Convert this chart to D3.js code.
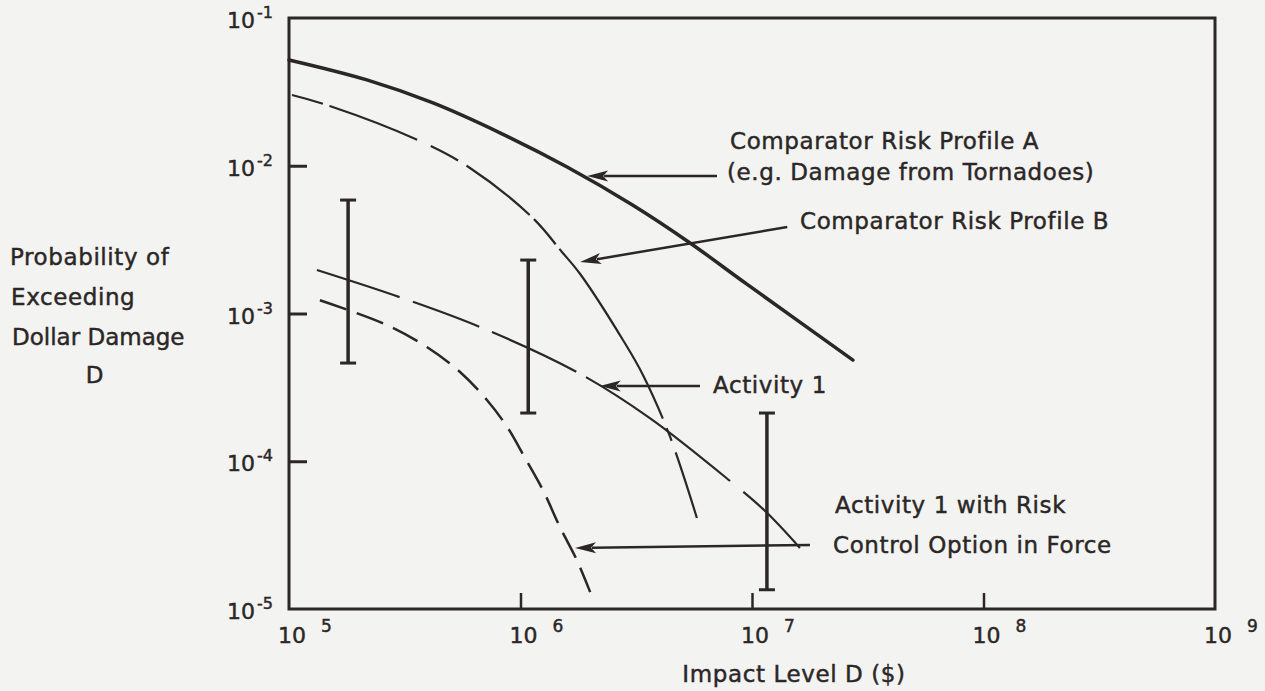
<!DOCTYPE html>
<html><head><meta charset="utf-8">
<script src="https://cdn.jsdelivr.net/npm/d3@7"></script>
<style>html,body{margin:0;padding:0;background:#f3f3f1;} svg{display:block;}</style>
</head><body><svg id="chart" width="1265" height="691"></svg>
<script>
// ---- tick labels ----
const xTicks = [1e5, 1e6, 1e7, 1e8, 1e9];
const xTickExp = ["5", "6", "7", "8", "9"];
const yTicks = [1e-1, 1e-2, 1e-3, 1e-4, 1e-5];
const yTickExp = ["-1", "-2", "-3", "-4", "-5"];

// ---- Comparator Risk Profile A (solid) ----
const profileA_D = [1e5, 2.17e5, 4.19e5, 8.15e5, 1.59e6, 3.06e6, 5.4e6, 9.5e6, 2.73e7];
const profileA_P = [0.052, 0.0381, 0.0266, 0.0167, 0.0098, 0.0054, 0.0030, 0.00158, 0.000484];

// ---- Comparator Risk Profile B (dash-dot) ----
const profileB_D = [1.03e5, 1.50e5, 3.61e5, 6.05e5, 1.13e6, 1.51e6, 1.81e6, 2.77e6, 3.38e6, 4.43e6, 5.78e6];
const profileB_P = [0.0301, 0.0254, 0.0149, 0.00966, 0.00443, 0.00261, 0.00185, 0.000662, 0.000384, 0.000146, 0.0000413];

// ---- Activity 1 (long dash) ----
const activity_D = [1.32e5, 3.01e5, 6.68e5, 1.75e6, 3.62e6, 8.04e6, 1.14e7, 1.61e7];
const activity_P = [0.00197, 0.00129, 0.000811, 0.000402, 0.000196, 0.0000735, 0.0000460, 0.0000259];

// ---- Activity 1 with Risk Control Option in Force (dashed) ----
const control_D = [1.36e5, 2.65e5, 3.94e5, 5.48e5, 7.16e5, 8.75e5, 1.04e6, 1.25e6, 1.48e6, 1.75e6, 2.0e6];
const control_P = [0.00123, 0.000836, 0.000593, 0.000402, 0.000260, 0.000171, 0.000107, 0.0000638, 0.0000359, 0.0000215, 0.0000130];

// ---- uncertainty bars ----
const bar_D = [1.8e5, 1.08e6, 1.16e7];
const bar_low = [0.000462, 0.000212, 0.0000135];
const bar_high = [0.00586, 0.0023, 0.000212];

// ---- annotations ----
const noteLines = [
  ["Comparator Risk Profile A", "(e.g. Damage from Tornadoes)"],
  ["Comparator Risk Profile B"],
  ["Activity 1"],
  ["Activity 1 with Risk", "Control Option in Force"]
];
const noteTip_D = [1.94e6, 1.81e6, 2.20e6, 1.72e6];
const noteTip_P = [0.00853, 0.00223, 0.000323, 0.0000259];
const noteTail_D = [7.06e6, 1.42e7, 5.96e6, 1.78e7];
const noteTail_P = [0.00853, 0.00385, 0.000323, 0.0000271];

const yTitle = ["Probability of", "Exceeding", "Dollar Damage", "D"];
const xTitle = "Impact Level D ($)";

// ---- drawing ----
const ink = "#2b2727";
const font = "'DejaVu Sans', sans-serif";
const svg = d3.select("#chart");
svg.append("rect").attr("width", 1265).attr("height", 691).attr("fill", "#f3f3f1");

const x = d3.scaleLog().domain([1e5, 1e9]).range([289, 1215]);
const y = d3.scaleLog().domain([1e-5, 1e-1]).range([609, 18]);

const g = svg.append("g");
const txt = sel => sel.attr("font-family", font).attr("fill", ink)
  .attr("stroke", ink).attr("stroke-width", 0.45);

// frame
g.append("rect")
  .attr("x", x(1e5)).attr("y", y(1e-1))
  .attr("width", x(1e9) - x(1e5)).attr("height", y(1e-5) - y(1e-1))
  .attr("fill", "none").attr("stroke", ink).attr("stroke-width", 3);

// y ticks (inward)
const yAxis = d3.axisRight(y).tickValues(yTicks.slice(1, -1)).tickSize(18).tickFormat("");
g.append("g").attr("transform", `translate(${x(1e5)},0)`).call(yAxis)
  .call(s => s.select(".domain").remove())
  .call(s => s.selectAll("line").attr("stroke", ink).attr("stroke-width", 3));
// x ticks (inward)
const xAxis = d3.axisTop(x).tickValues(xTicks.slice(1, -1)).tickSize(16).tickFormat("");
g.append("g").attr("transform", `translate(0,${y(1e-5)})`).call(xAxis)
  .call(s => s.select(".domain").remove())
  .call(s => s.selectAll("line").attr("stroke", ink).attr("stroke-width", 2.5));

// y tick labels
yTicks.forEach((v, i) => {
  const t = g.append("text").attr("x", 273).attr("y", y(v) + 10)
    .attr("text-anchor", "end").attr("font-size", 22).call(txt);
  t.append("tspan").text("10");
  t.append("tspan").attr("dx", 2).attr("dy", -10).attr("font-size", 16).text(yTickExp[i]);
});
// x tick labels
xTicks.forEach((v, i) => {
  const t = g.append("text").attr("x", x(v) - 11).attr("y", 643)
    .attr("font-size", 22).call(txt);
  t.append("tspan").text("10");
  t.append("tspan").attr("dx", 15).attr("dy", -11).attr("font-size", 17).text(xTickExp[i]);
});

// titles
const yt = g.append("g").attr("font-size", 23).attr("letter-spacing", 0.6).call(txt);
yt.append("text").attr("x", 10).attr("y", 265).text(yTitle[0]);
yt.append("text").attr("x", 11).attr("y", 305).text(yTitle[1]);
yt.append("text").attr("x", 12).attr("y", 345).attr("letter-spacing", 0).text(yTitle[2]);
yt.append("text").attr("x", 95).attr("y", 383).attr("text-anchor", "middle").text(yTitle[3]);
g.append("text").attr("x", 794).attr("y", 682).attr("text-anchor", "middle")
  .attr("font-size", 23).attr("letter-spacing", 0.6).call(txt).text(xTitle);

// curves
const line = d3.line().x(d => x(d[0])).y(d => y(d[1])).curve(d3.curveCatmullRom.alpha(0.5));
const zip = (a, b) => a.map((v, i) => [v, b[i]]);

g.append("path").attr("d", line(zip(profileA_D, profileA_P)))
  .attr("fill", "none").attr("stroke", ink).attr("stroke-width", 3.5).attr("stroke-linecap", "round");
g.append("path").attr("d", line(zip(profileB_D, profileB_P)))
  .attr("fill", "none").attr("stroke", ink).attr("stroke-width", 2.2)
  .attr("stroke-dasharray", "32,7,94,15,31,10,80,6,33,6,200,10,14,12,70");
g.append("path").attr("d", line(zip(activity_D, activity_P)))
  .attr("fill", "none").attr("stroke", ink).attr("stroke-width", 2.2)
  .attr("stroke-dasharray", "87,14,71,14,93,11,178,17,90");
g.append("path").attr("d", line(zip(control_D, control_P)))
  .attr("fill", "none").attr("stroke", ink).attr("stroke-width", 2.5)
  .attr("stroke-dasharray", "28,11");

// uncertainty bars
bar_D.forEach((d, i) => {
  const cx = x(d);
  g.append("line").attr("x1", cx).attr("x2", cx).attr("y1", y(bar_low[i])).attr("y2", y(bar_high[i]))
    .attr("stroke", ink).attr("stroke-width", 3.5);
  [bar_low[i], bar_high[i]].forEach(v => {
    g.append("line").attr("x1", cx - 8).attr("x2", cx + 8).attr("y1", y(v)).attr("y2", y(v))
      .attr("stroke", ink).attr("stroke-width", 3);
  });
});

// annotation arrows
noteTip_D.forEach((d, i) => {
  const tx = x(d), ty = y(noteTip_P[i]);
  const sx = x(noteTail_D[i]), sy = y(noteTail_P[i]);
  const len = Math.hypot(tx - sx, ty - sy);
  const ux = (tx - sx) / len, uy = (ty - sy) / len;
  const L = 21, W = 5.5;
  const bx = tx - ux * L, by = ty - uy * L;
  g.append("line").attr("x1", sx).attr("y1", sy).attr("x2", bx + ux * 4).attr("y2", by + uy * 4)
    .attr("stroke", ink).attr("stroke-width", 2.5);
  g.append("path").attr("d", `M${tx},${ty}L${bx - uy * W},${by + ux * W}L${bx + ux * 5},${by + uy * 5}L${bx + uy * W},${by - ux * W}Z`)
    .attr("fill", ink);
});

// annotation text
const notePos = [[730, 149], [800, 229], [713, 393], [835, 513]];
const noteGap = [31, 0, 0, 40];
noteLines.forEach((lines, i) => {
  lines.forEach((s, j) => {
    g.append("text").attr("x", notePos[i][0] - (j ? 3 : 0) * (i === 0 ? 1 : 0.66)).attr("y", notePos[i][1] + j * noteGap[i])
      .attr("font-size", 23).attr("letter-spacing", 0.6).call(txt).text(s);
  });
});
</script></body></html>
